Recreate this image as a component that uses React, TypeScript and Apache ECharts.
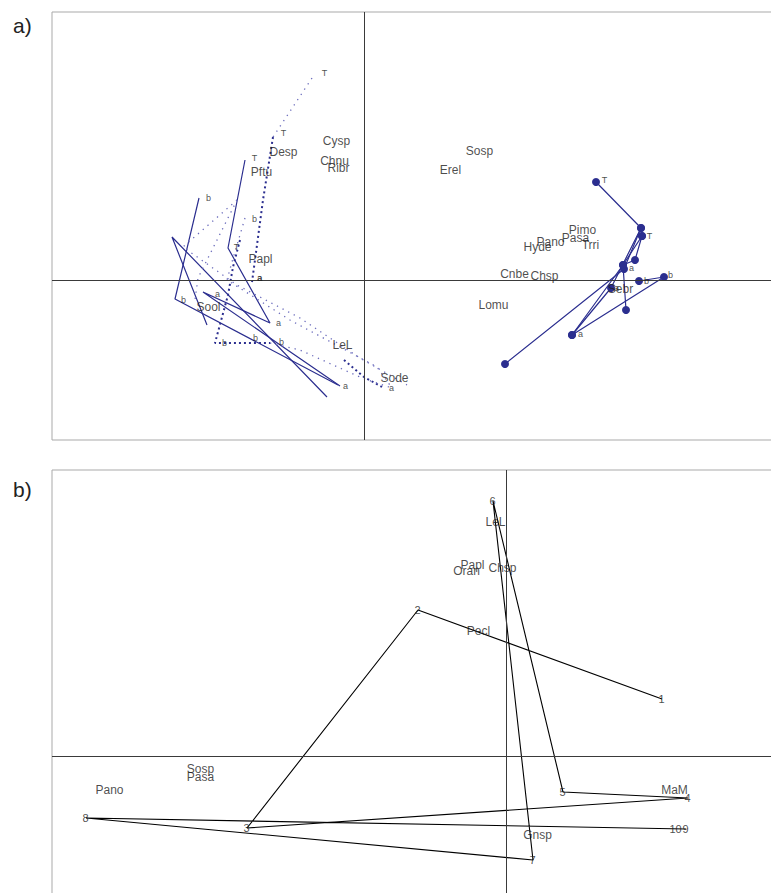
import React, { useEffect, useRef } from "react";
import * as echarts from "echarts";

const NAVY = "#2b2e8f";
const NAVY_LIGHT = "#6b6cbc";
const TEXT = "#1c1c1c";
const FONT = "Liberation Sans";

// ---------- Panel a ----------
const speciesA: [string, number, number][] = [
  ["Cysp", -0.27, 1.39],
  ["Desp", -0.8, 1.28],
  ["Chnu", -0.29, 1.19],
  ["Ribr", -0.25, 1.12],
  ["Pftu", -1.02, 1.08],
  ["Sosp", 1.16, 1.29],
  ["Erel", 0.87, 1.1],
  ["Papl", -1.03, 0.21],
  ["Sool", -1.55, -0.27],
  ["LeL", -0.21, -0.65],
  ["Sode", 0.31, -0.98],
  ["Pimo", 2.19, 0.5],
  ["Pasa", 2.12, 0.42],
  ["Pano", 1.87, 0.38],
  ["Hyde", 1.74, 0.33],
  ["Trri", 2.27, 0.35],
  ["Cnbe", 1.51, 0.06],
  ["Chsp", 1.81, 0.04],
  ["Lomu", 1.3, -0.25],
  ["Sebr", 2.57, -0.09],
];

const marksA: [string, number, number][] = [
  ["T", -0.39, 2.07],
  ["T", -0.8, 1.47],
  ["T", -1.09, 1.22],
  ["T", -1.27, 0.33],
  ["b", -1.55, 0.82],
  ["b", -1.09, 0.61],
  ["a", -1.04, 0.02],
  ["a", -1.035, 0.02],
  ["a", -1.46, -0.14],
  ["b", -1.8, -0.2],
  ["a", -0.85, -0.43],
  ["b", -1.39, -0.63],
  ["b", -1.08, -0.58],
  ["b", -0.82, -0.62],
  ["a", -0.18, -1.06],
  ["a", 0.28, -1.08],
  ["T", 2.41, 1.0],
  ["T", 2.86, 0.44],
  ["a", 2.68, 0.12],
  ["b", 3.07, 0.05],
  ["b", 2.83, -0.01],
  ["a", 2.17, -0.54],
  ["a", 2.53, -0.08],
];

const solidA: [number, number][][] = [
  [[-1.19, 1.2], [-1.36, 0.32], [-0.94, -0.43], [-1.61, -0.12], [-0.24, -1.06]],
  [[-1.65, 0.82], [-1.89, -0.19], [-0.26, -1.05]],
  [[-1.57, -0.45], [-1.92, 0.43], [-0.37, -1.17]],
];

const denseA: [number, number][][] = [
  [[-0.91, 1.43], [-1.01, 0.8], [-1.07, 0.35], [-1.12, -0.02]],
  [[-1.24, 0.4], [-1.31, 0.13], [-1.36, -0.15], [-1.49, -0.63], [-0.94, -0.63]],
  [[-0.2, -0.8], [0.0, -0.97], [0.18, -1.07]],
];

const sparseA: [number, number][][] = [
  [[-0.52, 2.02], [-0.91, 1.43]],
  [[-1.27, 0.8], [-1.81, 0.33], [-1.27, -0.05], [-0.64, -0.38], [-0.04, -0.78], [0.43, -1.05]],
  [[-1.27, 0.8], [-1.66, 0.02], [-1.69, -0.2]],
  [[-1.19, 0.62], [-1.32, 0.18], [-1.37, 0.0], [-0.74, -0.4], [0.13, -0.87], [0.28, -1.08]],
  [[-0.94, -0.63], [-0.64, -0.7], [-0.02, -0.98], [0.28, -1.08]],
];

const dottedTrajA: [number, number][][] = [
  [[2.32, 0.98], [2.77, 0.52], [2.6, 0.11], [1.41, -0.84]],
  [[2.78, 0.44], [2.71, 0.2], [2.59, 0.15], [2.62, -0.3]],
  [[2.77, 0.52], [2.47, -0.08], [2.08, -0.55], [3.0, 0.03], [2.75, -0.01]],
  [[2.78, 0.44], [2.59, 0.15], [2.08, -0.55]],
];

// ---------- Panel b ----------
const sitesB: [string, number, number][] = [
  ["1", 1.56, 0.57],
  ["2", -0.88, 1.46],
  ["3", -2.59, -0.72],
  ["4", 1.82, -0.42],
  ["5", 0.57, -0.36],
  ["6", -0.13, 2.55],
  ["7", 0.27, -1.04],
  ["8", -4.2, -0.62],
  ["9", 1.8, -0.73],
  ["10", 1.7, -0.73],
];

const speciesB: [string, number, number][] = [
  ["LeL", -0.1, 2.34],
  ["Papl", -0.33, 1.91],
  ["Oran", -0.39, 1.85],
  ["Chsp", -0.03, 1.88],
  ["Pecl", -0.27, 1.25],
  ["Sosp", -3.05, -0.13],
  ["Pasa", -3.05, -0.21],
  ["Pano", -3.96, -0.34],
  ["MaM", 1.69, -0.34],
  ["Gnsp", 0.32, -0.79],
];

function lineSeries(
  pts: [number, number][],
  idx: number,
  lineStyle: any,
  extra: any = {}
) {
  return {
    type: "line",
    xAxisIndex: idx,
    yAxisIndex: idx,
    data: pts,
    symbol: "none",
    silent: true,
    lineStyle,
    z: 2,
    ...extra,
  };
}

function labelSeries(
  items: [string, number, number][],
  idx: number,
  fontSize: number,
  extra: any = {}
) {
  return {
    type: "scatter",
    xAxisIndex: idx,
    yAxisIndex: idx,
    symbol: "circle",
    symbolSize: 1,
    silent: true,
    itemStyle: { color: "rgba(0,0,0,0)" },
    label: {
      show: true,
      position: [0, 0],
      align: "center",
      verticalAlign: "middle",
      formatter: "{b}",
      fontSize,
      fontFamily: FONT,
      color: TEXT,
      textBorderWidth: 0,
    },
    data: items.map(([n, x, y]) => ({ name: n, value: [x, y] })),
    z: 5,
    ...extra,
  };
}

const zeroLine = {
  silent: true,
  symbol: ["none", "none"],
  label: { show: false },
  lineStyle: { color: "#3a3a3a", type: "solid", width: 1 },
  data: [{ xAxis: 0 }, { yAxis: 0 }],
};

export default function App() {
  const ref = useRef<HTMLDivElement>(null);

  useEffect(() => {
    if (!ref.current) return;
    const chart = echarts.init(ref.current, undefined, { renderer: "svg" });

    const series: any[] = [];
    solidA.forEach((p) =>
      series.push(lineSeries(p, 0, { color: NAVY, width: 1.2, type: "solid" }))
    );
    denseA.forEach((p) =>
      series.push(lineSeries(p, 0, { color: NAVY, width: 2, type: [2, 3] }))
    );
    sparseA.forEach((p) =>
      series.push(
        lineSeries(p, 0, { color: NAVY_LIGHT, width: 1.3, type: [1.3, 5] })
      )
    );
    dottedTrajA.forEach((p) =>
      series.push(
        lineSeries(
          p,
          0,
          { color: NAVY, width: 1.2, type: "solid" },
          {
            symbol: "circle",
            symbolSize: 8,
            showSymbol: true,
            itemStyle: { color: NAVY },
          }
        )
      )
    );
    series.push(labelSeries(speciesA, 0, 12, { markLine: zeroLine }));
    series.push(labelSeries(marksA, 0, 9));

    series.push(
      lineSeries(
        sitesB.map(([, x, y]) => [x, y] as [number, number]),
        1,
        { color: "#000", width: 1.1, type: "solid" }
      )
    );
    series.push(labelSeries(speciesB, 1, 12, { markLine: zeroLine }));
    series.push(labelSeries(sitesB, 1, 11));

    const titleStyle = {
      fontFamily: FONT,
      fontSize: 21,
      fontWeight: "normal",
      color: "#222",
    };

    chart.setOption({
      animation: false,
      backgroundColor: "#fff",
      title: [
        { text: "a)", left: 8, top: 10, textStyle: titleStyle },
        { text: "b)", left: 8, top: 474, textStyle: titleStyle },
      ],
      grid: [
        {
          left: 52,
          top: 12,
          width: 725,
          height: 428,
          show: true,
          borderColor: "#a9a9a9",
          borderWidth: 1,
          backgroundColor: "transparent",
        },
        {
          left: 52,
          top: 470,
          width: 725,
          height: 430,
          show: true,
          borderColor: "#a9a9a9",
          borderWidth: 1,
          backgroundColor: "transparent",
        },
      ],
      xAxis: [
        { type: "value", gridIndex: 0, min: -3.12, max: 4.13, show: false },
        { type: "value", gridIndex: 1, min: -4.54, max: 2.71, show: false },
      ],
      yAxis: [
        { type: "value", gridIndex: 0, min: -1.6, max: 2.68, show: false },
        { type: "value", gridIndex: 1, min: -1.44, max: 2.86, show: false },
      ],
      series,
    });

    return () => chart.dispose();
  }, []);

  return (
    <div
      style={{
        position: "absolute",
        left: 0,
        top: 0,
        width: 771,
        height: 893,
        overflow: "hidden",
        background: "#fff",
      }}
    >
      <div ref={ref} style={{ width: 800, height: 920 }} />
    </div>
  );
}
